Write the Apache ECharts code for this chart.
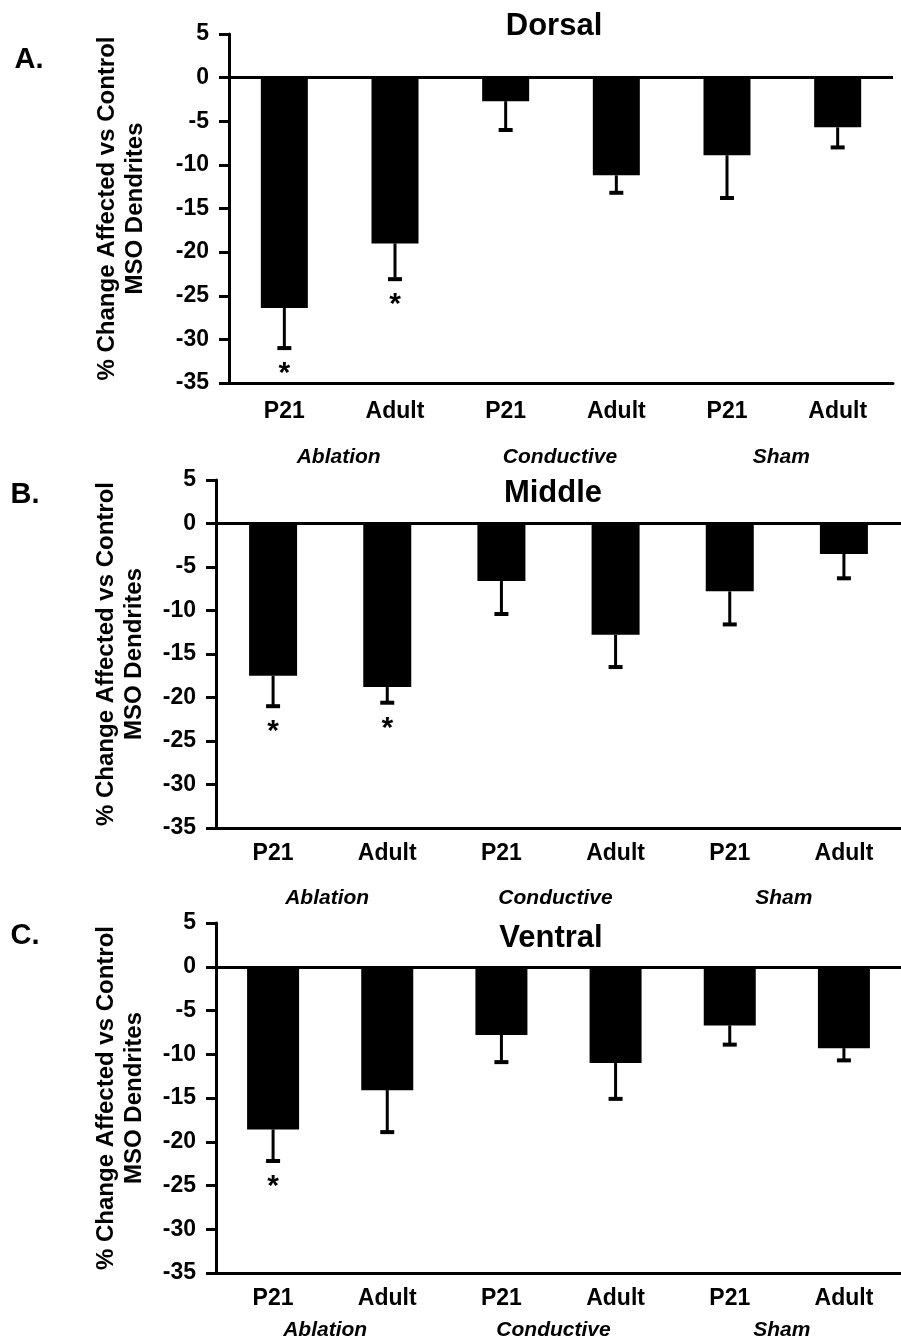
<!DOCTYPE html>
<html lang="en">
<head>
<meta charset="UTF-8">
<title>MSO dendrites</title>
<script src="https://cdn.jsdelivr.net/npm/echarts@6/dist/echarts.min.js"></script>
<style>
body {margin: 0; padding: 0; background: #fff;}
#main {width: 901px; height: 1342px;}
</style>
</head>
<body>
<div id="main"></div>
<script>
// categories and group labels
var categories = ['P21', 'Adult', 'P21', 'Adult', 'P21', 'Adult'];
var groups = ['Ablation', 'Conductive', 'Sham'];

// mean % change and SEM
var dorsalMean = [-26.4, -19.0, -2.7, -11.2, -8.9, -5.7];
var dorsalSem = [4.6, 4.1, 3.3, 2.0, 4.9, 2.3];
var dorsalSig = [1, 1, 0, 0, 0, 0];

var middleMean = [-17.5, -18.8, -6.6, -12.8, -7.8, -3.5];
var middleSem = [3.5, 1.8, 3.8, 3.7, 3.8, 2.8];
var middleSig = [1, 1, 0, 0, 0, 0];

var ventralMean = [-18.6, -14.1, -7.8, -11.0, -6.7, -9.3];
var ventralSem = [3.6, 4.8, 3.1, 4.1, 2.2, 1.4];
var ventralSig = [1, 0, 0, 0, 0, 0];

var FONT = '"Liberation Sans", Arial, sans-serif';

var panels = [
    {title: 'Dorsal', letter: 'A.', mean: dorsalMean, sem: dorsalSem, sig: dorsalSig,
     grid: {left: 229, top: 34, right: 8, height: 349}, barWidth: 47, nameGap: 80,
     tickMargin: 17, groupMargin: 64, groupPad: [0, 2, 0, 0],
     titlePos: [554, 26], letterPos: [29, 60]},
    {title: 'Middle', letter: 'B.', mean: middleMean, sem: middleSem, sig: middleSig,
     grid: {left: 216, top: 480, right: -7, height: 348}, barWidth: 48, nameGap: 68,
     tickMargin: 14, groupMargin: 60, groupPad: [0, 6, 0, 0],
     titlePos: [553, 493], letterPos: [25, 495]},
    {title: 'Ventral', letter: 'C.', mean: ventralMean, sem: ventralSem, sig: ventralSig,
     grid: {left: 216, top: 923, right: -7, height: 350}, barWidth: 52, nameGap: 68,
     tickMargin: 14, groupMargin: 47, groupPad: [0, 10, 0, 0],
     titlePos: [551, 938], letterPos: [25, 936]}
];

function renderErr(params, api) {
    var idx = api.value(0);
    var m = api.value(1);
    var s = api.value(2);
    var sig = api.value(3);
    var top = api.coord([idx, m]);
    var bot = api.coord([idx, m - s]);
    var children = [
        {type: 'line', shape: {x1: top[0], y1: top[1], x2: bot[0], y2: bot[1]}, style: {stroke: '#000', lineWidth: 3}},
        {type: 'line', shape: {x1: bot[0] - 7, y1: bot[1], x2: bot[0] + 7, y2: bot[1]}, style: {stroke: '#000', lineWidth: 4}}
    ];
    if (sig) {
        children.push({
            type: 'text',
            style: {text: '*', x: bot[0], y: bot[1] + 11, align: 'center', verticalAlign: 'top',
                    font: 'bold 30px ' + FONT, fill: '#000'}
        });
    }
    return {type: 'group', children: children};
}

var grids = [], xAxes = [], yAxes = [], series = [], graphics = [];

panels.forEach(function (p, i) {
    grids.push(p.grid);
    xAxes.push({
        type: 'category', gridIndex: i, data: categories, position: 'bottom',
        axisLine: {onZero: false, lineStyle: {color: '#000', width: 3}},
        axisTick: {alignWithLabel: true, length: 7, lineStyle: {color: '#000', width: 3}},
        axisLabel: {color: '#000', fontFamily: FONT, fontWeight: 'bold', fontSize: 23, margin: p.tickMargin}
    });
    xAxes.push({
        type: 'category', gridIndex: i, data: groups, position: 'bottom',
        axisLine: {show: false}, axisTick: {show: false},
        axisLabel: {color: '#000', fontFamily: FONT, fontWeight: 'bold', fontStyle: 'italic',
                    fontSize: 21, margin: p.groupMargin, padding: p.groupPad}
    });
    yAxes.push({
        type: 'value', gridIndex: i, min: -35, max: 5, interval: 5,
        splitLine: {show: false},
        axisLine: {show: true, lineStyle: {color: '#000', width: 3}},
        axisTick: {show: true, length: 10, lineStyle: {color: '#000', width: 3}},
        axisLabel: {color: '#000', fontFamily: FONT, fontWeight: 'bold', fontSize: 23, margin: 20},
        name: '% Change Affected vs Control\nMSO Dendrites',
        nameLocation: 'middle', nameGap: p.nameGap,
        nameTextStyle: {color: '#000', fontFamily: FONT, fontWeight: 'bold', fontSize: 24, lineHeight: 28}
    });
    series.push({
        type: 'bar', xAxisIndex: i * 2, yAxisIndex: i, data: p.mean,
        barWidth: p.barWidth, itemStyle: {color: '#000'}, silent: true,
        markLine: {
            silent: true, symbol: 'none', label: {show: false},
            lineStyle: {color: '#000', width: 3, type: 'solid'},
            data: [{yAxis: 0}]
        }
    });
    series.push({
        type: 'custom', xAxisIndex: i * 2, yAxisIndex: i, renderItem: renderErr, silent: true,
        data: p.mean.map(function (m, k) { return [k, m, p.sem[k], p.sig[k]]; }),
        z: 3
    });
    graphics.push({
        type: 'text', x: p.titlePos[0], y: p.titlePos[1],
        style: {text: p.title, align: 'center', verticalAlign: 'middle', font: 'bold 31px ' + FONT, fill: '#000'}
    });
    graphics.push({
        type: 'text', x: p.letterPos[0], y: p.letterPos[1],
        style: {text: p.letter, align: 'center', verticalAlign: 'middle', font: 'bold 29px ' + FONT, fill: '#000'}
    });
});

var chart = echarts.init(document.getElementById('main'), null, {renderer: 'canvas'});
chart.setOption({
    animation: false,
    backgroundColor: '#fff',
    grid: grids,
    xAxis: xAxes,
    yAxis: yAxes,
    series: series,
    graphic: graphics
});
</script>
</body>
</html>
